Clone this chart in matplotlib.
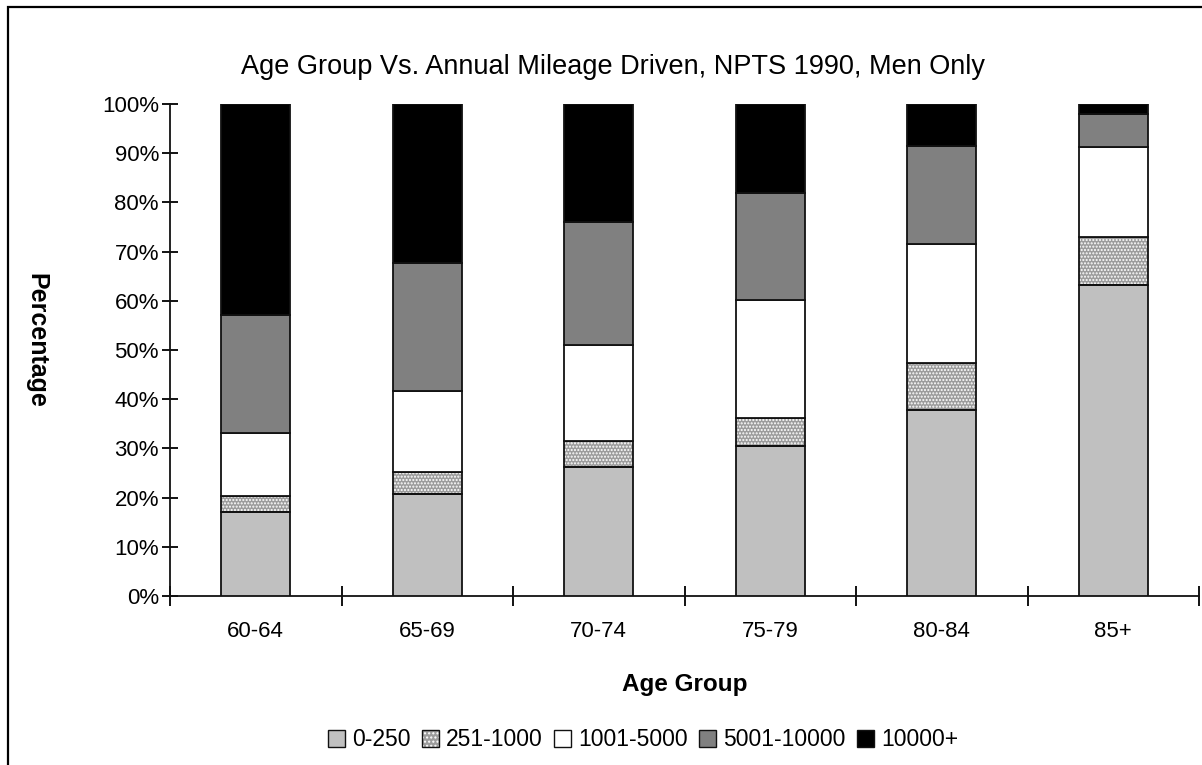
import matplotlib
matplotlib.use("Agg")
import matplotlib.pyplot as plt
import numpy as np
from matplotlib.patches import Rectangle, Patch
from matplotlib.legend_handler import HandlerTuple

# Share of men in each age group by annual miles driven (percent)
age_groups = ["60-64", "65-69", "70-74", "75-79", "80-84", "85+"]
mileage_bands = ["0-250", "251-1000", "1001-5000", "5001-10000", "10000+"]
pct_0_250 = [17.1, 20.7, 26.2, 30.5, 37.9, 63.2]
pct_251_1000 = [3.2, 4.6, 5.3, 5.7, 9.5, 9.8]
pct_1001_5000 = [12.8, 16.4, 19.5, 24.0, 24.1, 18.2]
pct_5001_10000 = [24.0, 26.0, 25.0, 21.7, 20.0, 6.8]
pct_10000_plus = [42.9, 32.3, 24.0, 18.1, 8.5, 2.0]

series = [pct_0_250, pct_251_1000, pct_1001_5000, pct_5001_10000, pct_10000_plus]
fills = ["#c0c0c0", "#9c9c9c", "#ffffff", "#808080", "#000000"]
hatches = [None, ".....", None, None, None]

FONT = ["Liberation Sans", "DejaVu Sans"]
plt.rcParams["font.family"] = FONT
plt.rcParams["hatch.linewidth"] = 1.0

W, H = 1202, 765
fig = plt.figure(figsize=(W / 100, H / 100), dpi=100)
fig.patch.set_facecolor("white")

# frame around the chart area (runs off the right and bottom edges)
fig.add_artist(Rectangle((8 / W, -0.05), 1.2, 1 - 7 / H + 0.05,
                         transform=fig.transFigure, fill=False,
                         edgecolor="black", linewidth=1.6))

ax = fig.add_axes([170 / W, 1 - 596 / H, (1199 - 170) / W, (596 - 104) / H])
x = np.arange(len(age_groups))
width = 0.4
bottom = np.zeros(len(age_groups))
handles = []
for vals, fc, hatch, name in zip(series, fills, hatches, mileage_bands):
    vals = np.array(vals)
    if hatch:
        ax.bar(x, vals, width, bottom=bottom, color=fc, hatch=hatch,
               edgecolor="white", linewidth=0, zorder=2)
        ax.bar(x, vals, width, bottom=bottom, fill=False,
               edgecolor="#111111", linewidth=1.3, zorder=3)
        h = (Patch(facecolor=fc, hatch="....", edgecolor="white", linewidth=0),
             Patch(fill=False, edgecolor="#111111", linewidth=1.0))
    else:
        ax.bar(x, vals, width, bottom=bottom, color=fc,
               edgecolor="#111111", linewidth=1.3, zorder=3)
        h = Patch(facecolor=fc, edgecolor="#111111", linewidth=1.0)
    handles.append(h)
    bottom += vals

ax.set_xlim(-0.5, len(age_groups) - 0.5)
ax.set_ylim(0, 100)
for s in ["top", "right"]:
    ax.spines[s].set_visible(False)
for s in ["left", "bottom"]:
    ax.spines[s].set_linewidth(1.3)
    ax.spines[s].set_color("#111111")

ax.set_yticks(np.arange(0, 101, 10))
ax.set_yticklabels([f"{v}%" for v in range(0, 101, 10)], fontsize=16)
ax.tick_params(axis="y", direction="inout", length=12, width=1.3, pad=2)

ax.set_xticks(np.arange(-0.5, len(age_groups), 1.0))
ax.set_xticklabels([])
ax.tick_params(axis="x", direction="inout", length=14, width=1.3)
ax.set_xticks(x, minor=True)
ax.set_xticklabels(age_groups, minor=True, fontsize=16)
ax.tick_params(axis="x", which="minor", length=0, pad=18)

fig.text(613 / W, 1 - 67 / H, "Age Group Vs. Annual Mileage Driven, NPTS 1990, Men Only",
         ha="center", va="center", fontsize=19.5)
fig.text(685 / W, 1 - 685 / H, "Age Group", ha="center", va="center",
         fontsize=17.5, fontweight="bold")
fig.text(36 / W, 1 - 340 / H, "Percentage", ha="center", va="center",
         fontsize=18, fontweight="bold", rotation=-90)

fig.legend(handles, mileage_bands, loc="center", bbox_to_anchor=(643 / W, 1 - 740 / H),
           ncol=5, frameon=False, fontsize=16.5, handlelength=0.75, handleheight=0.75,
           handletextpad=0.3, columnspacing=0.5, borderpad=0,
           handler_map={tuple: HandlerTuple(ndivide=1, pad=0)})

fig.savefig("out.png", dpi=100, facecolor="white")
